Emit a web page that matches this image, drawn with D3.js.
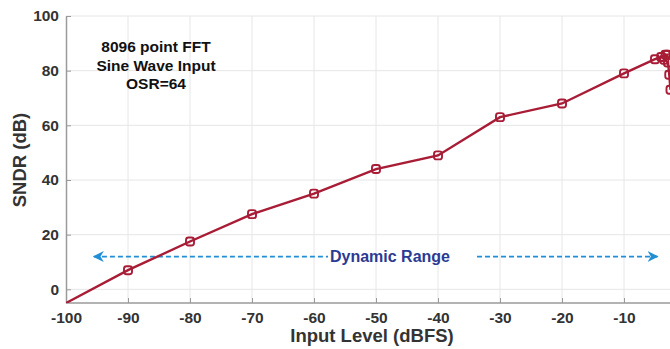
<!DOCTYPE html>
<html>
<head>
<meta charset="utf-8">
<script src="https://cdn.jsdelivr.net/npm/d3@7"></script>
<style>
  html, body { margin: 0; padding: 0; background: #fff; }
  svg { display: block; font-family: "Liberation Sans", Arial, sans-serif; }
</style>
</head>
<body>
<svg id="chart" width="670" height="349"></svg>
<script>
// Measured SNDR versus input level
const inputLevel = [-105, -90, -80, -70, -60, -50, -40, -30, -20, -10, -5, -4, -3.3, -3.0, -3.5, -2.9, -2.7, -2.5];
const sndr       = [-11, 7, 17.5, 27.5, 35, 44, 49, 63, 68, 79, 84.2, 85, 85.8, 85.8, 84, 83, 78.5, 73];

const xTicks = [-100, -90, -80, -70, -60, -50, -40, -30, -20, -10];
const yTicks = [0, 20, 40, 60, 80, 100];
const noteLines = ["8096 point FFT", "Sine Wave Input", "OSR=64"];
const rangeLabel = "Dynamic Range";
const rangeSpan = [-95.5, -4.6];
const rangeLevel = 12;

const svg = d3.select("#chart");
const W = 670, H = 349;
const padL = 66, padT = 16, baseY = 303;

const x = d3.scaleLinear().domain([-100, 0]).range([padL, 686]);
const y = d3.scaleLinear().domain([-5, 100]).range([baseY, padT]);

const lineColor = "#a81c36";
const gridColor = "#e6e6e6";
const axisColor = "#9a9a9a";

const defs = svg.append("defs");
defs.append("clipPath").attr("id", "plot")
  .append("rect").attr("x", padL).attr("y", padT).attr("width", W - padL).attr("height", baseY - padT);

// grid
const grid = svg.append("g");
grid.selectAll("line.v").data(xTicks.slice(1)).join("line")
  .attr("x1", d => x(d)).attr("x2", d => x(d)).attr("y1", padT).attr("y2", baseY)
  .attr("stroke", gridColor).attr("stroke-width", 1);
grid.selectAll("line.h").data(yTicks).join("line")
  .attr("x1", padL).attr("x2", W).attr("y1", d => y(d)).attr("y2", d => y(d))
  .attr("stroke", gridColor).attr("stroke-width", 1);

// axes (plain hyphen minus in labels)
const fmt = d => String(d);
const xAxis = svg.append("g").attr("transform", `translate(0,${baseY})`)
  .call(d3.axisBottom(x).tickValues(xTicks).tickFormat(fmt).tickSizeInner(-5).tickSizeOuter(0).tickPadding(9));
const yAxis = svg.append("g").attr("transform", `translate(${padL},0)`)
  .call(d3.axisLeft(y).tickValues(yTicks).tickFormat(fmt).tickSizeInner(-5).tickSizeOuter(0).tickPadding(7));
[xAxis, yAxis].forEach(g => {
  g.select(".domain").attr("stroke", axisColor).attr("stroke-width", 1.5);
  g.selectAll(".tick line").attr("stroke", axisColor).attr("stroke-width", 1);
  g.selectAll(".tick text").attr("fill", "#333").attr("font-size", 15.5)
    .attr("font-weight", "bold").attr("font-family", "Liberation Sans, Arial, sans-serif");
});
xAxis.select(".domain").attr("d", `M${padL},0H${W}`);

// axis titles
svg.append("text").attr("x", 372).attr("y", 342).attr("text-anchor", "middle")
  .attr("font-size", 18.5).attr("font-weight", "bold").attr("fill", "#333")
  .text("Input Level (dBFS)");
svg.append("text").attr("transform", "translate(26,160) rotate(-90)").attr("text-anchor", "middle")
  .attr("font-size", 18.5).attr("font-weight", "bold").attr("fill", "#333")
  .text("SNDR (dB)");

// dynamic range annotation
const arrowColor = "#1f8fd6";
defs.append("marker").attr("id", "ah").attr("viewBox", "0 0 10 10").attr("refX", 9).attr("refY", 5)
  .attr("markerWidth", 11).attr("markerHeight", 11).attr("markerUnits", "userSpaceOnUse").attr("orient", "auto-start-reverse")
  .append("path").attr("d", "M0,0L10,5L0,10L3,5Z").attr("fill", arrowColor);
const ya = y(rangeLevel);
svg.append("line").attr("x1", x(rangeSpan[0])).attr("x2", 328).attr("y1", ya).attr("y2", ya)
  .attr("stroke", arrowColor).attr("stroke-width", 1.7).attr("stroke-dasharray", "5,3")
  .attr("marker-start", "url(#ah)");
svg.append("line").attr("x1", 477).attr("x2", x(rangeSpan[1])).attr("y1", ya).attr("y2", ya)
  .attr("stroke", arrowColor).attr("stroke-width", 1.7).attr("stroke-dasharray", "5,3")
  .attr("marker-end", "url(#ah)");
svg.append("text").attr("x", 390).attr("y", ya + 5.5).attr("text-anchor", "middle")
  .attr("font-size", 16).attr("font-weight", "bold").attr("fill", "#2b3a92").text(rangeLabel);

// note
svg.append("g").selectAll("text").data(noteLines).join("text")
  .attr("x", 156).attr("y", (d, i) => 52 + i * 18.5).attr("text-anchor", "middle")
  .attr("font-size", 15.5).attr("font-weight", "bold").attr("fill", "#111").text(d => d);

// data line + markers
const pts = inputLevel.map((v, i) => [v, sndr[i]]);
const plot = svg.append("g").attr("clip-path", "url(#plot)");
plot.append("path").datum(pts)
  .attr("d", d3.line().x(d => x(d[0])).y(d => y(d[1])))
  .attr("fill", "none").attr("stroke", lineColor).attr("stroke-width", 2.4);
plot.selectAll("rect.m").data(pts).join("rect")
  .attr("x", d => x(d[0]) - 4).attr("y", d => y(d[1]) - 4)
  .attr("width", 8).attr("height", 8).attr("rx", 2.5)
  .attr("fill", "none").attr("stroke", lineColor).attr("stroke-width", 1.9);
</script>
</body>
</html>
